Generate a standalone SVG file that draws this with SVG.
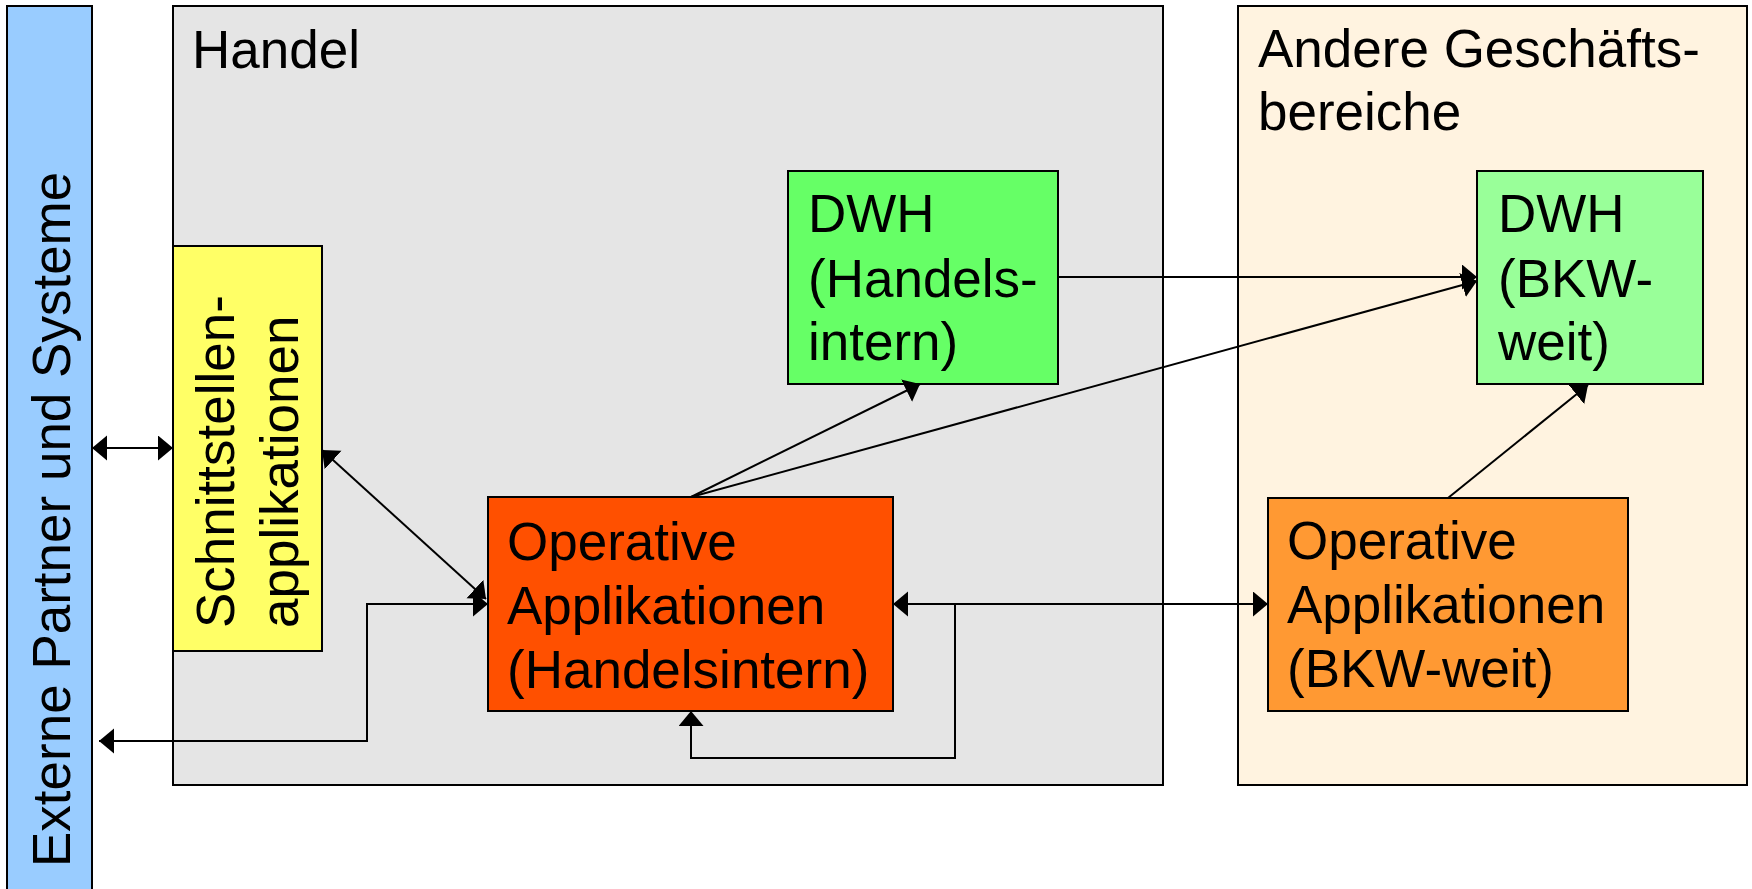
<svg xmlns="http://www.w3.org/2000/svg" width="1752" height="889" viewBox="0 0 1752 889">
  <style>
    .box { stroke: #000; stroke-width: 2; }
    .lbl { font-family: "Liberation Sans", Arial, sans-serif; font-size: 53px; fill: #000; }
    .con { fill: none; stroke: #000; stroke-width: 2; }
  </style>
  <defs>
    <marker id="arr" markerUnits="userSpaceOnUse" markerWidth="16" markerHeight="26" refX="15" refY="12.5" orient="auto-start-reverse" viewBox="0 0 16 26">
      <path d="M0,0 L15,12.5 L0,25 z" fill="#000"/>
    </marker>
  </defs>
  <rect width="1752" height="889" fill="#fff"/>

  <g id="externe">
    <rect class="box" x="7" y="6" width="85" height="900" fill="#99CCFF"/>
    <text class="lbl" transform="translate(70,867) rotate(-90)">Externe Partner und Systeme</text>
  </g>

  <g id="handel">
    <rect class="box" x="173" y="6" width="990" height="779" fill="#E5E5E5"/>
    <text class="lbl" x="192" y="68">Handel</text>
  </g>

  <g id="andere">
    <rect class="box" x="1238" y="6" width="509" height="779" fill="#FFF3E0"/>
    <text class="lbl" x="1258" y="67">Andere Geschäfts-</text>
    <text class="lbl" x="1258" y="130">bereiche</text>
  </g>

  <g id="schnittstellen">
    <rect class="box" x="173" y="246" width="149" height="405" fill="#FFFF66"/>
    <text class="lbl" transform="translate(234,628) rotate(-90)">Schnittstellen-</text>
    <text class="lbl" transform="translate(298,628) rotate(-90)">applikationen</text>
  </g>

  <g id="dwh-handel">
    <rect class="box" x="788" y="171" width="270" height="213" fill="#66FF66"/>
    <text class="lbl" x="808" y="232">DWH</text>
    <text class="lbl" x="808" y="297">(Handels-</text>
    <text class="lbl" x="808" y="360">intern)</text>
  </g>

  <g id="dwh-bkw">
    <rect class="box" x="1477" y="171" width="226" height="213" fill="#99FF99"/>
    <text class="lbl" x="1498" y="232">DWH</text>
    <text class="lbl" x="1498" y="297">(BKW-</text>
    <text class="lbl" x="1498" y="360">weit)</text>
  </g>

  <g id="op-handel">
    <rect class="box" x="488" y="497" width="405" height="214" fill="#FF5000"/>
    <text class="lbl" x="507" y="560">Operative</text>
    <text class="lbl" x="507" y="624">Applikationen</text>
    <text class="lbl" x="507" y="688">(Handelsintern)</text>
  </g>

  <g id="op-bkw">
    <rect class="box" x="1268" y="498" width="360" height="213" fill="#FF9933"/>
    <text class="lbl" x="1287" y="559">Operative</text>
    <text class="lbl" x="1287" y="623">Applikationen</text>
    <text class="lbl" x="1287" y="687">(BKW-weit)</text>
  </g>

  <g id="connectors">
    <path class="con" d="M92,448 L173,448" marker-start="url(#arr)" marker-end="url(#arr)"/>
    <path class="con" d="M322,450 L486,599" marker-start="url(#arr)" marker-end="url(#arr)"/>
    <path class="con" d="M488,604 L367,604 L367,741 L99,741" marker-start="url(#arr)" marker-end="url(#arr)"/>
    <path class="con" d="M691,497 L920,384" marker-end="url(#arr)"/>
    <path class="con" d="M691,497 L1477,281" marker-end="url(#arr)"/>
    <path class="con" d="M1058,277 L1477,277" marker-end="url(#arr)"/>
    <path class="con" d="M1448,498 L1588,385" marker-end="url(#arr)"/>
    <path class="con" d="M893,604 L1268,604" marker-start="url(#arr)" marker-end="url(#arr)"/>
    <path class="con" d="M955,604 L955,758 L691,758 L691,711" marker-end="url(#arr)"/>
  </g>
</svg>
